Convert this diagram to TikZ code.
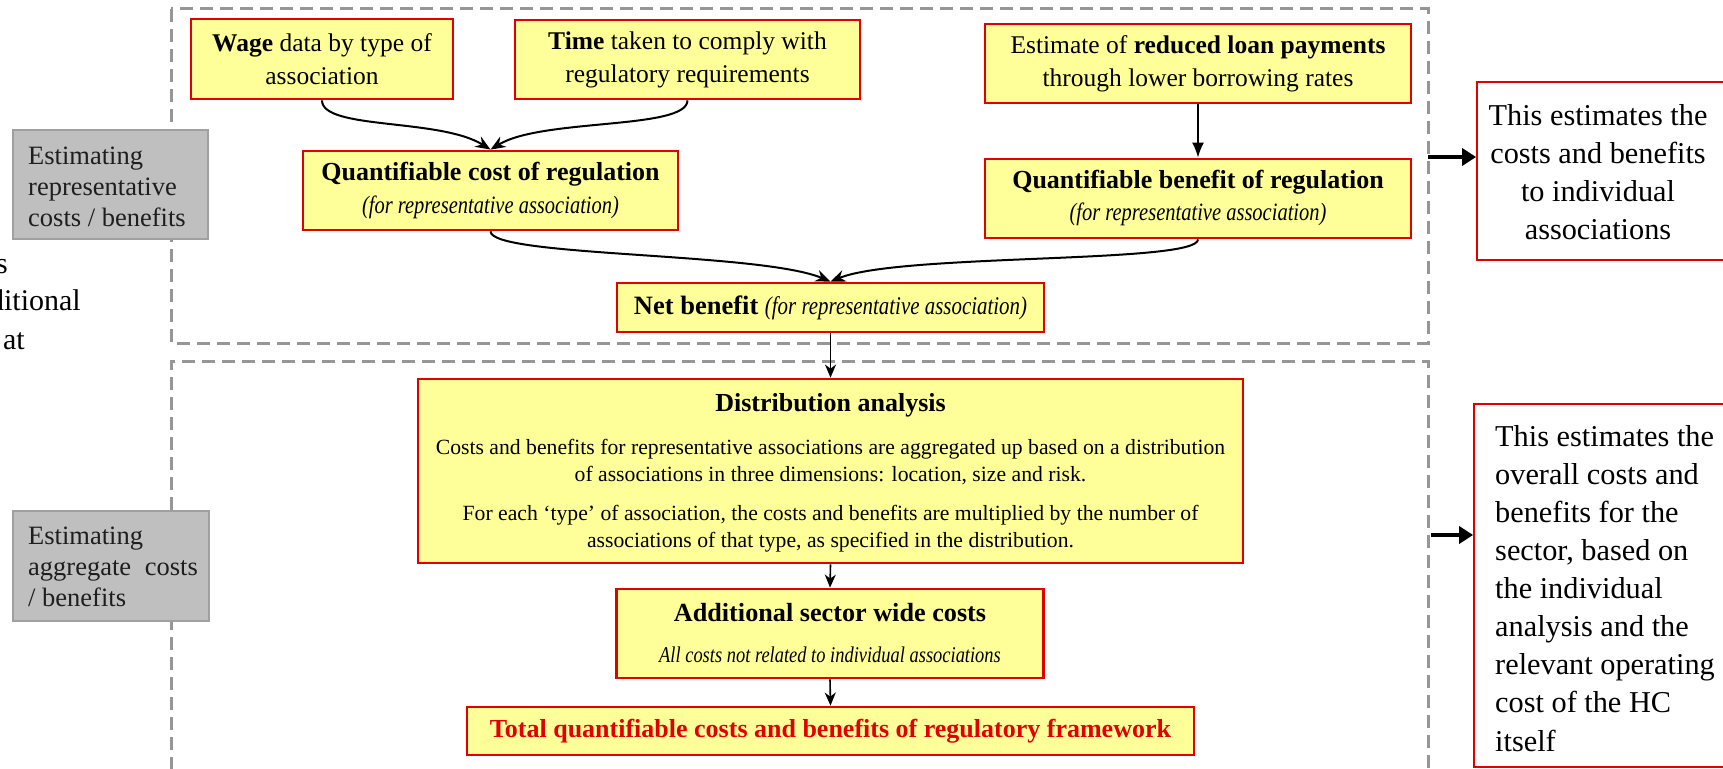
\documentclass[tikz,border=0pt]{standalone}
\usepackage{fontspec}
\setmainfont{Liberation Serif}
\newfontfamily\condfont[FakeStretch=0.82]{Liberation Serif}
\usetikzlibrary{arrows.meta}
\definecolor{boxred}{RGB}{225,0,0}
\definecolor{boxyellow}{RGB}{255,255,153}
\definecolor{dashgray}{RGB}{150,150,150}
\definecolor{greyfill}{RGB}{191,191,191}
\definecolor{greyline}{RGB}{160,160,160}
\definecolor{greytext}{RGB}{30,30,30}
\begin{document}
\begin{tikzpicture}[x=1pt,y=-1pt,
  ybox/.style={draw=boxred, line width=2.8pt, fill=boxyellow, inner sep=0pt, align=center, text=black,
    font=\fontsize{25.5}{33}\selectfont},
  gbox/.style={draw=greyline, line width=1.5pt, fill=greyfill, inner sep=0pt},
  gtext/.style={align=left, inner sep=0pt, text=greytext, font=\fontsize{26.5}{31}\selectfont},
  rbox/.style={draw=boxred, line width=1.8pt, fill=white, inner sep=0pt},
  rtext/.style={inner sep=0pt, text=black, font=\fontsize{30.3}{38.1}\selectfont},
  frame/.style={draw=dashgray, line width=3pt, dash pattern=on 13pt off 7pt},
  curvearrow/.style={draw=black, line width=2pt, -{Stealth[length=15pt,width=12pt,inset=5pt]}},
  straightarrow/.style={draw=black, line width=1.8pt, -{Latex[length=15pt,width=12pt]}},
  thinarrow/.style={draw=black, line width=1.6pt, -{Stealth[length=13pt,width=11pt,inset=4pt]}},
  thickarrow/.style={draw=black, line width=4.5pt, -{Triangle[length=14pt,width=17pt]}},
  leftcut/.style={anchor=base east, inner sep=0pt, font=\fontsize{30}{38}\selectfont}
]
\useasboundingbox (0,0) rectangle (1723,768);

% dashed frames
\draw[frame] (171,9) rectangle (1428,343);
\draw[frame] (171,790) -- (171,361) -- (1428,361) -- (1428,790);

% text cut off at the left edge
\node[leftcut] (lt1) at (8,273) {s};
\node[leftcut] (lt2) at (81,310) {ditional};
\node[leftcut] (lt3) at (25,349) {at};

% grey side boxes
\node[gbox, minimum width=195pt, minimum height=109pt] (g1) at (110.5,184.5) {};
\node[gtext, anchor=north west] (g1t) at (28,147) {Estimating\\representative\\costs / benefits};
\node[gbox, minimum width=196pt, minimum height=110pt] (g2) at (111,566) {};
\node[gtext, anchor=north west] (g2t) at (28,527) {Estimating\\aggregate\hspace{7pt} costs\\/ benefits};

% top section boxes
\node[ybox, minimum width=262pt, minimum height=80pt] (wage) at (322,59)
  {\textbf{Wage} data by type of\\association};
\node[ybox, minimum width=345pt, minimum height=79pt] (time) at (687.5,59.5)
  {\textbf{Time} taken to comply with\\regulatory requirements};
\node[ybox, minimum width=426pt, minimum height=79pt] (est) at (1198,63.5)
  {Estimate of \textbf{reduced loan payments}\\through lower borrowing rates};
\node[ybox, minimum width=375pt, minimum height=79pt, font=\fontsize{26}{33}\selectfont] (qcost) at (490.5,190.5)
  {\textbf{Quantifiable cost of regulation}\\{\condfont\fontsize{25}{33}\selectfont\itshape (for representative association)}};
\node[ybox, minimum width=426pt, minimum height=79pt, font=\fontsize{26}{32}\selectfont] (qben) at (1198,198.5)
  {\textbf{Quantifiable benefit of regulation}\\{\condfont\fontsize{25}{32}\selectfont\itshape (for representative association)}};
\node[ybox, minimum width=427pt, minimum height=49pt, font=\fontsize{26.5}{33}\selectfont] (net) at (830.5,307.5)
  {\textbf{Net benefit} {\condfont\fontsize{25.5}{33}\selectfont\itshape (for representative association)}};

% bottom section boxes
\node[ybox, minimum width=825pt, minimum height=184pt] (dist) at (830.5,471) {};
\node[inner sep=0pt, font=\fontsize{26}{33}\selectfont\bfseries] (distT) at (830.5,405) {Distribution analysis};
\node[inner sep=0pt, align=center, font=\fontsize{21.7}{27}\selectfont] (distP1) at (830.5,462)
  {Costs and benefits for representative associations are aggregated up based on a distribution\\of associations in three dimensions: location, size and risk.};
\node[inner sep=0pt, align=center, font=\fontsize{21.7}{27}\selectfont] (distP2) at (830.5,529)
  {For each `type' of association, the costs and benefits are multiplied by the number of\\associations of that type, as specified in the distribution.};

\node[ybox, minimum width=427pt, minimum height=89pt, font=\fontsize{26.2}{33}\selectfont] (add) at (830,633.5)
  {\textbf{Additional sector wide costs}\\[8pt]{\condfont\fontsize{22.5}{33}\selectfont\itshape All costs not related to individual associations}};
\node[ybox, minimum width=727pt, minimum height=48pt, font=\fontsize{26}{33}\selectfont\bfseries, text=boxred] (total) at (830.5,731)
  {Total quantifiable costs and benefits of regulatory framework};

% right explanation boxes
\node[rbox, minimum width=253pt, minimum height=178pt] (r1) at (1603.5,171) {};
\node[rtext, align=center] (r1t) at (1598,172) {This estimates the\\costs and benefits\\to individual\\associations};
\node[rbox, minimum width=256pt, minimum height=363pt] (r2) at (1602,585.5) {};
\node[rtext, align=left, anchor=north west] (r2t) at (1495,425) {This estimates the\\overall costs and\\benefits for the\\sector, based on\\the individual\\analysis and the\\relevant operating\\cost of the HC\\itself};

% connector start points on the dashed frames
\coordinate (f1) at (1428,157);
\coordinate (f2) at (1431,535);

% connectors
\draw[curvearrow] (wage.south) .. controls (322,130) and (440,118) .. (qcost.north);
\draw[curvearrow] (time.south) .. controls (687,130) and (542,118) .. (qcost.north);
\draw[curvearrow] (qcost.south) .. controls (491,257) and (760,252) .. (net.north);
\draw[curvearrow] (qben.south) .. controls (1198,264) and (900,253) .. (net.north);
\draw[straightarrow] (est.south) -- (qben.north);
\draw[thinarrow] (net.south) -- (dist.north);
\draw[thinarrow] (dist.south) -- (add.north);
\draw[thinarrow] (add.south) -- (total.north);
\draw[thickarrow] (f1) -- (f1 -| r1.west);
\draw[thickarrow] (f2) -- (f2 -| r2.west);
\end{tikzpicture}
\end{document}
